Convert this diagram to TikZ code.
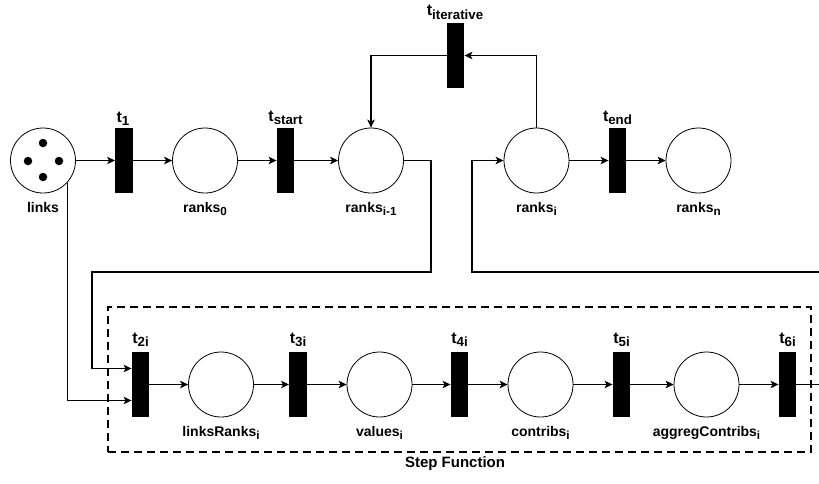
\documentclass[tikz,border=0pt]{standalone}
\usepackage{fontspec}
\setmainfont{Liberation Sans}
\usetikzlibrary{arrows.meta,calc}
\newcommand{\sbs}[1]{\raisebox{-3.3pt}{\fontsize{11.7}{12}\selectfont #1}}
\newcommand{\tsb}[1]{\raisebox{-3.8pt}{\fontsize{13.3}{14}\selectfont #1}}
\begin{document}
\begin{tikzpicture}[x=1pt,y=-1pt,
 place/.style={circle,draw,line width=0.8pt,minimum size=65pt,inner sep=0pt},
 trans/.style={rectangle,fill=black,minimum width=17.5pt,minimum height=65pt,inner sep=0pt},
 lab/.style={font=\fontsize{14}{16}\selectfont\bfseries,anchor=base,inner sep=0pt},
 tlab/.style={font=\fontsize{16}{18}\selectfont\bfseries,anchor=base,inner sep=0pt},
 arc/.style={line width=1.2pt,-{Stealth[length=8pt,width=7.5pt,inset=2pt]}},
 wire/.style={line width=1.2pt},
 token/.style={circle,fill=black,minimum size=8.5pt,inner sep=0pt},
 stepbox/.style={draw,line width=1.3pt,dash pattern=on 8pt off 5pt,minimum width=703pt,minimum height=145pt,inner sep=0pt}]
\useasboundingbox (0,0) rectangle (819,483);

% dashed step function frame
\node[stepbox] (box) at (459.5,379.5) {};

% top row
\node[place] (links) at (43,160.5) {};
\node[token] (k1) at (43,143) {};
\node[token] (k2) at (28,161) {};
\node[token] (k3) at (59,161) {};
\node[token] (k4) at (43,177) {};
\node[trans] (t1) at (124,160.5) {};
\node[place] (r0) at (205,160.5) {};
\node[trans] (ts) at (285.5,160.5) {};
\node[place] (rim) at (371,160.5) {};
\node[trans] (tit) at (455.5,55.5) {};
\node[place] (ri) at (536.5,160.5) {};
\node[trans] (te) at (617.5,160.5) {};
\node[place] (rn) at (698.5,160.5) {};

% bottom row
\node[trans] (t2) at (140.5,384.5) {};
\node[place] (lr) at (221,384.5) {};
\node[trans] (t3) at (298,384.5) {};
\node[place] (val) at (379.5,384.5) {};
\node[trans] (t4) at (459.5,384.5) {};
\node[place] (con) at (540.5,384.5) {};
\node[trans] (t5) at (621.5,384.5) {};
\node[place] (agg) at (706.5,384.5) {};
\node[trans] (t6) at (787.5,384.5) {};

% labels
\node[lab] (Llinks) at (43,212) {links};
\node[lab] (Lr0) at (205,212) {ranks\sbs{0}};
\node[lab] (Lrim) at (371,212) {ranks\sbs{i-1}};
\node[lab] (Lri) at (536.5,212) {ranks\sbs{i}};
\node[lab] (Lrn) at (698.5,212) {ranks\sbs{n}};
\node[tlab] (Lt1) at (123,122) {t\tsb{1}};
\node[tlab] (Lts) at (285.5,121) {t\tsb{start}};
\node[tlab] (Ltit) at (455,15.5) {t\tsb{iterative}};
\node[tlab] (Lte) at (617.5,121) {t\tsb{end}};
\node[tlab] (Lt2) at (140.5,343) {t\tsb{2i}};
\node[tlab] (Lt3) at (298,343) {t\tsb{3i}};
\node[tlab] (Lt4) at (459.5,343) {t\tsb{4i}};
\node[tlab] (Lt5) at (621.5,343) {t\tsb{5i}};
\node[tlab] (Lt6) at (787.5,343) {t\tsb{6i}};
\node[lab] (Llr) at (221,436) {linksRanks\sbs{i}};
\node[lab] (Lval) at (379.5,436) {values\sbs{i}};
\node[lab] (Lcon) at (540.5,436) {contribs\sbs{i}};
\node[lab] (Lagg) at (706.5,436) {aggregContribs\sbs{i}};
\node[lab,font=\fontsize{15}{17}\selectfont\bfseries] (Lbox) at (455,467) {Step Function};

% free-end coordinates
\coordinate (a1) at (431,272);
\coordinate (a2) at (92,272);
\coordinate (b1) at (819,272);
\coordinate (b2) at (472,272);
\coordinate (c1) at (819,384.5);

% top row arcs
\draw[arc] (links) -- (t1);
\draw[arc] (t1) -- (r0);
\draw[arc] (r0) -- (ts);
\draw[arc] (ts) -- (rim);
\draw[arc] (ri.north) |- (tit.east);
\draw[arc] (tit.west) -| (rim.north);
\draw[arc] (ri) -- (te);
\draw[arc] (te) -- (rn);

% loops
\draw[arc] (rim.east) -| (a1) -- (a2) |- ($(t2.west)+(0,-16)$);
\draw[arc] (links.-42) |- ($(t2.west)+(0,16)$);
\draw[arc] (b1) -- (b2) |- (ri.west);

% bottom row arcs
\draw[arc] (t2) -- (lr);
\draw[arc] (lr) -- (t3);
\draw[arc] (t3) -- (val);
\draw[arc] (val) -- (t4);
\draw[arc] (t4) -- (con);
\draw[arc] (con) -- (t5);
\draw[arc] (t5) -- (agg);
\draw[arc] (agg) -- (t6);
\draw[wire] (t6.east) -- (c1);
\end{tikzpicture}
\end{document}
